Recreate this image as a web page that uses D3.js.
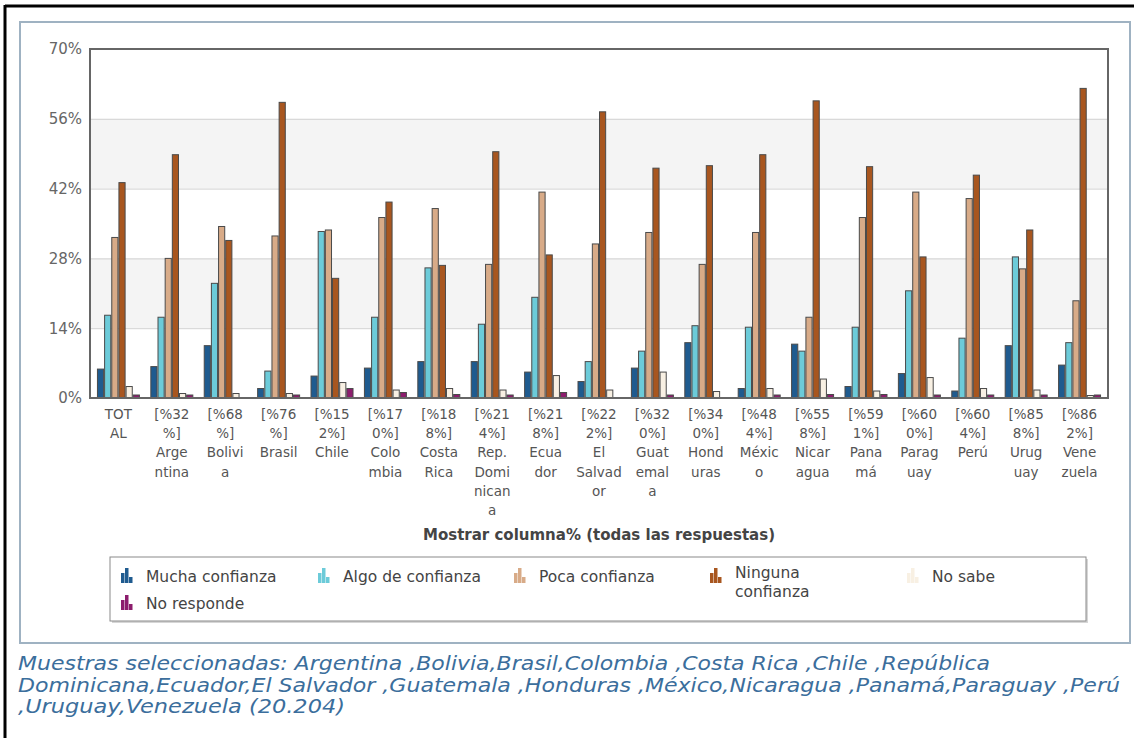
<!DOCTYPE html>
<html>
<head>
<meta charset="utf-8">
<script src="https://cdn.jsdelivr.net/npm/d3@7/dist/d3.min.js"></script>
<style>
  html, body { margin: 0; padding: 0; background: #fff; }
  svg { display: block; }
</style>
</head>
<body>
<script>
// Categories (total + countries) and the wrapped lines of each axis label
const categories = ["TOTAL","Argentina","Bolivia","Brasil","Chile","Colombia","Costa Rica",
  "Rep. Dominicana","Ecuador","El Salvador","Guatemala","Honduras","México","Nicaragua",
  "Panamá","Paraguay","Perú","Uruguay","Venezuela"];
const labelLines = [
  ["TOT","AL"],
  ["[%32","%]","Arge","ntina"],
  ["[%68","%]","Bolivi","a"],
  ["[%76","%]","Brasil"],
  ["[%15","2%]","Chile"],
  ["[%17","0%]","Colo","mbia"],
  ["[%18","8%]","Costa","Rica"],
  ["[%21","4%]","Rep.","Domi","nican","a"],
  ["[%21","8%]","Ecua","dor"],
  ["[%22","2%]","El","Salvad","or"],
  ["[%32","0%]","Guat","emal","a"],
  ["[%34","0%]","Hond","uras"],
  ["[%48","4%]","Méxic","o"],
  ["[%55","8%]","Nicar","agua"],
  ["[%59","1%]","Pana","má"],
  ["[%60","0%]","Parag","uay"],
  ["[%60","4%]","Perú"],
  ["[%85","8%]","Urug","uay"],
  ["[%86","2%]","Vene","zuela"]
];

// Series names, colours and values (percent of answers)
const seriesNames = ["Mucha confianza","Algo de confianza","Poca confianza","Ninguna confianza","No sabe","No responde"];
const seriesColors = ["#1f5b8f","#6ccbd9","#d8ab88","#a8561f","#f8f0e3","#8c1d6d"];
const mucha      = [5.8,6.3,10.5,1.9,4.4,6.0,7.3,7.3,5.2,3.3,6.0,11.1,1.9,10.8,2.3,4.9,1.4,10.5,6.6];
const algo       = [16.6,16.2,23.0,5.4,33.4,16.2,26.1,14.8,20.2,7.3,9.4,14.5,14.2,9.4,14.2,21.5,12.0,28.3,11.1];
const poca       = [32.2,28.0,34.4,32.5,33.7,36.2,38.0,26.8,41.3,30.9,33.2,26.8,33.2,16.2,36.2,41.3,40.0,25.9,19.5];
const ninguna    = [43.2,48.8,31.6,59.3,24.0,39.3,26.6,49.4,28.7,57.4,46.1,46.6,48.8,59.6,46.4,28.3,44.7,33.7,62.1];
const noSabe     = [2.3,0.9,0.9,0.9,3.1,1.6,1.9,1.6,4.5,1.6,5.2,1.3,1.9,3.8,1.4,4.1,1.9,1.6,0.5];
const noResponde = [0.6,0.6,0,0.6,1.9,1.1,0.7,0.6,1.1,0,0.6,0,0.6,0.7,0.7,0.6,0.6,0.6,0.6];
const seriesValues = [mucha, algo, poca, ninguna, noSabe, noResponde];

const yTicks = [0,14,28,42,56,70];
const axisTitle = "Mostrar columna%  (todas las respuestas)";
const footerLines = [
  "Muestras seleccionadas: Argentina ,Bolivia,Brasil,Colombia ,Costa Rica ,Chile ,República",
  "Dominicana,Ecuador,El Salvador ,Guatemala ,Honduras ,México,Nicaragua ,Panamá,Paraguay ,Perú",
  ",Uruguay,Venezuela (20.204)"
];

const W = 1134, H = 738;
const plot = {left: 90, right: 1108, top: 49, bottom: 398};

const svg = d3.select("body").append("svg").attr("width", W).attr("height", H);

// Page frames
svg.append("line").attr("x1", 5).attr("x2", W).attr("y1", 6).attr("y2", 6)
  .attr("stroke", "#000").attr("stroke-width", 3);
svg.append("line").attr("x1", 5).attr("x2", 5).attr("y1", 5).attr("y2", H)
  .attr("stroke", "#000").attr("stroke-width", 3);
svg.append("rect").attr("x", 20).attr("y", 22).attr("width", 1110).attr("height", 621)
  .attr("fill", "none").attr("stroke", "#9fb2c2").attr("stroke-width", 2);

// Scales
const x0 = d3.scaleBand().domain(categories).range([plot.left, plot.right])
  .paddingInner(0.195).paddingOuter(0.13);
const x1 = d3.scaleBand().domain(seriesNames).range([0, x0.bandwidth()]).padding(0);
const y = d3.scaleLinear().domain([0, 70]).range([plot.bottom, plot.top]);

// Alternating background bands
const bands = [[14,28],[42,56]];
svg.append("g").selectAll("rect").data(bands).join("rect")
  .attr("x", plot.left).attr("width", plot.right - plot.left)
  .attr("y", d => y(d[1])).attr("height", d => y(d[0]) - y(d[1]))
  .attr("fill", "#f4f4f4");

// Gridlines and y tick labels via d3 axis
const yAxis = d3.axisLeft(y).tickValues(yTicks).tickFormat(d => d + "%")
  .tickSize(-(plot.right - plot.left)).tickPadding(8);
const gy = svg.append("g").attr("transform", `translate(${plot.left},0)`).call(yAxis);
gy.select(".domain").remove();
gy.selectAll(".tick line").attr("stroke", "#d2d2d2").attr("stroke-width", 1);
gy.selectAll(".tick text").attr("fill", "#666").style("font-family", "DejaVu Sans")
  .style("font-size", "15px");

// Bars
const groups = svg.append("g").selectAll("g").data(categories).join("g")
  .attr("transform", d => `translate(${x0(d)},0)`);
groups.selectAll("rect")
  .data((d, i) => seriesNames.map((s, k) => ({s, k, v: seriesValues[k][i]})).filter(e => e.v > 0))
  .join("rect")
  .attr("x", e => x1(e.s) + 0.5)
  .attr("width", x1.bandwidth() - 1)
  .attr("y", e => y(e.v))
  .attr("height", e => y(0) - y(e.v))
  .attr("fill", e => seriesColors[e.k])
  .attr("stroke", "#4a4a4a").attr("stroke-width", 1);

// Plot border
svg.append("rect").attr("x", plot.left).attr("y", plot.top)
  .attr("width", plot.right - plot.left).attr("height", plot.bottom - plot.top)
  .attr("fill", "none").attr("stroke", "#666").attr("stroke-width", 2);

// Wrapped category labels
const xl = svg.append("g").style("font-family", "DejaVu Sans").style("font-size", "13.5px")
  .attr("fill", "#555").attr("text-anchor", "middle");
categories.forEach((c, i) => {
  const cx = x0(c) + x0.bandwidth() / 2;
  const t = xl.append("text").attr("x", cx).attr("y", 419);
  labelLines[i].forEach((ln, j) => {
    t.append("tspan").attr("x", cx).attr("dy", j === 0 ? 0 : 19.2).text(ln);
  });
});

// Axis title
svg.append("text").attr("x", 599).attr("y", 540).attr("text-anchor", "middle")
  .style("font-family", "DejaVu Sans").style("font-weight", "bold").style("font-size", "15px")
  .attr("fill", "#444").text(axisTitle);

// Legend
const lg = svg.append("g");
lg.append("rect").attr("x", 112).attr("y", 559).attr("width", 976).attr("height", 64)
  .attr("fill", "#bbb").attr("opacity", 0.6);
lg.append("rect").attr("x", 110).attr("y", 557).attr("width", 976).attr("height", 64)
  .attr("fill", "#fff").attr("stroke", "#8a8a8a").attr("stroke-width", 1);
const legendPos = [
  {x: 121, y: 583}, {x: 318, y: 583}, {x: 514, y: 583},
  {x: 710, y: 583}, {x: 907, y: 583}, {x: 121, y: 610}
];
const iconBars = [{dx: 0, h: 10}, {dx: 4, h: 15}, {dx: 8, h: 6}];
seriesNames.forEach((s, k) => {
  const p = legendPos[k];
  const g = lg.append("g");
  iconBars.forEach(b => {
    g.append("rect").attr("x", p.x + b.dx).attr("y", p.y - b.h).attr("width", 3.5).attr("height", b.h)
      .attr("fill", seriesColors[k]);
  });
  const t = g.append("text").attr("x", p.x + 25).attr("y", p.y - 1)
    .style("font-family", "DejaVu Sans").style("font-size", "15.5px").attr("fill", "#444");
  if (s === "Ninguna confianza") {
    t.attr("y", p.y - 5);
    t.append("tspan").attr("x", p.x + 25).text("Ninguna");
    t.append("tspan").attr("x", p.x + 25).attr("dy", 19).text("confianza");
  } else {
    t.text(s);
  }
});

// Footer note
const footerWidths = [972, 1102, 327];
footerLines.forEach((ln, i) => {
  svg.append("text").attr("x", 18).attr("y", 670 + i * 21.5)
    .style("font-family", "DejaVu Sans").style("font-style", "italic").style("font-size", "19px")
    .attr("fill", "#3b6e9c")
    .attr("textLength", footerWidths[i]).attr("lengthAdjust", "spacingAndGlyphs")
    .text(ln);
});
</script>
</body>
</html>
